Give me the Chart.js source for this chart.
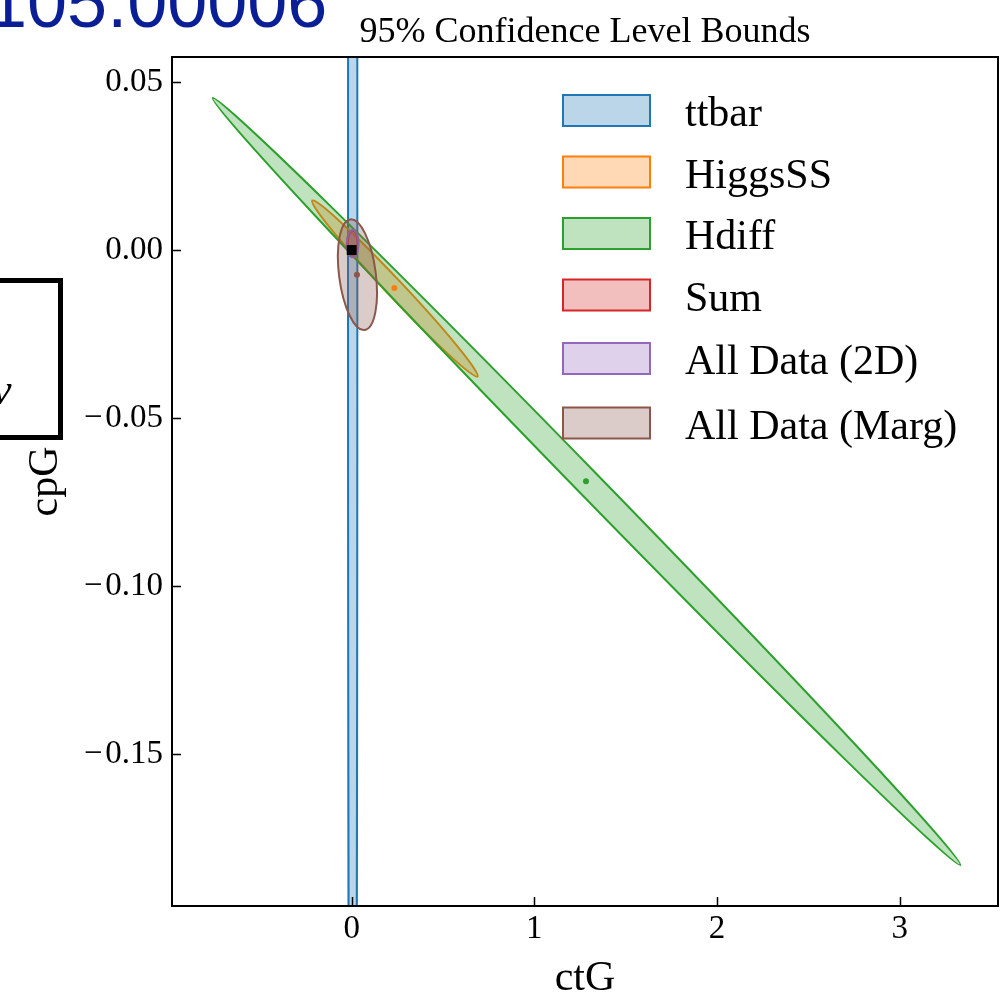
<!DOCTYPE html>
<html>
<head>
<meta charset="utf-8">
<script src="https://cdn.jsdelivr.net/npm/chart.js@4.4.1/dist/chart.umd.min.js"></script>
<style>
    html, body { margin: 0; padding: 0; background: #fff; overflow: hidden; }
    #chart { display: block; }
</style>
</head>
<body>
<canvas id="chart" width="1005" height="998"></canvas>
<script>
// ====== data ======
const labels = ["ttbar", "HiggsSS", "Hdiff", "Sum", "All Data (2D)", "All Data (Marg)"];
const edgeColors = ["#1f77b4", "#ff7f0e", "#2ca02c", "#d62728", "#9467bd", "#8c564b"];
const fillColors = ["rgba(31,119,180,0.3)", "rgba(255,127,14,0.3)", "rgba(44,160,44,0.3)",
    "rgba(214,39,40,0.3)", "rgba(148,103,189,0.3)", "rgba(140,86,75,0.3)"];

// ellipse centres (ctG, cpG)
const centerCtG = [0.0054, 0.2364, 1.2853, 0.0054, 0.0054, 0.0315];
const centerCpG = [0.0, -0.01146, -0.0689, 0.0019, 0.0019, -0.00735];
// first half-axis vector
const axisA_ctG = [0.0255, 0.4527, 2.0462, 0.028, 0.0326, 0.0391];
const axisA_cpG = [0.0, -0.02619, -0.11414, 0.0, 0.0, -0.01646];
// second half-axis vector
const axisB_ctG = [0.0, 0.0336, 0.04848, 0.0, 0.0, 0.0997];
const axisB_cpG = [0.4, 0.00174, 0.00261, 0.0038, 0.00408, 0.00071];

// best-fit dots that show in the picture
const dotCtG = [0.2337, 1.2826, 0.0288];
const dotCpG = [-0.0113, -0.0688, -0.00735];
const dotColors = ["#ff7f0e", "#2ca02c", "#8c564b"];

// SM point
const smCtG = [0];
const smCpG = [0];

const xTicks = [0, 1, 2, 3];
const yTicks = [0.05, 0.0, -0.05, -0.10, -0.15];

const serif = "'Liberation Serif', 'Times New Roman', serif";

// ====== plugins ======
const ellipsePlugin = {
    id: "ellipses",
    beforeDatasetsDraw(chart) {
        const { ctx, chartArea, scales } = chart;
        const xs = scales.x, ys = scales.y;
        ctx.save();
        ctx.beginPath();
        ctx.rect(chartArea.left, chartArea.top, chartArea.right - chartArea.left, chartArea.bottom - chartArea.top);
        ctx.clip();
        labels.forEach((lab, i) => {
            const cx = xs.getPixelForValue(centerCtG[i]);
            const cy = ys.getPixelForValue(centerCpG[i]);
            const ax = xs.getPixelForValue(centerCtG[i] + axisA_ctG[i]) - cx;
            const ay = ys.getPixelForValue(centerCpG[i] + axisA_cpG[i]) - cy;
            const bx = xs.getPixelForValue(centerCtG[i] + axisB_ctG[i]) - cx;
            const by = ys.getPixelForValue(centerCpG[i] + axisB_cpG[i]) - cy;
            ctx.save();
            ctx.beginPath();
            ctx.transform(ax, ay, bx, by, cx, cy);
            ctx.arc(0, 0, 1, 0, Math.PI * 2);
            ctx.closePath();
            ctx.restore();
            ctx.fillStyle = fillColors[i];
            ctx.fill();
            ctx.lineWidth = 2;
            ctx.strokeStyle = edgeColors[i];
            ctx.stroke();
        });
        ctx.restore();
    },
};

const decorPlugin = {
    id: "decor",
    afterDraw(chart) {
        const { ctx, chartArea, scales } = chart;
        const { left, right, top, bottom } = chartArea;
        ctx.save();

        // frame
        ctx.strokeStyle = "#000";
        ctx.lineWidth = 2;
        ctx.strokeRect(left, top, right - left, bottom - top);

        // inward ticks
        ctx.lineWidth = 1.5;
        ctx.beginPath();
        xTicks.forEach((v) => {
            const px = Math.round(scales.x.getPixelForValue(v)) + 0.5;
            ctx.moveTo(px, bottom);
            ctx.lineTo(px, bottom - 9);
        });
        yTicks.forEach((v) => {
            const py = Math.round(scales.y.getPixelForValue(v)) + 0.5;
            ctx.moveTo(left, py);
            ctx.lineTo(left + 9, py);
        });
        ctx.stroke();

        // title
        ctx.fillStyle = "#000";
        ctx.font = `36px ${serif}`;
        ctx.textAlign = "center";
        ctx.textBaseline = "alphabetic";
        ctx.fillText("95% Confidence Level Bounds", (left + right) / 2, 42);

        // legend
        const legX = 563, legW = 87, legH = 31;
        const rowY = [126, 187.5, 249, 310.5, 374, 438.5];
        ctx.font = `42px ${serif}`;
        ctx.textAlign = "left";
        labels.forEach((lab, i) => {
            const yb = rowY[i];
            ctx.fillStyle = "#fff";
            ctx.fillRect(legX, yb - legH, legW, legH);
            ctx.fillStyle = fillColors[i];
            ctx.fillRect(legX, yb - legH, legW, legH);
            ctx.lineWidth = 2;
            ctx.strokeStyle = edgeColors[i];
            ctx.strokeRect(legX, yb - legH, legW, legH);
            ctx.fillStyle = "#000";
            ctx.fillText(lab, 685, yb);
        });

        // stray overlay pieces at the left edge
        ctx.fillStyle = "#0a1f96";
        ctx.font = "72px 'Liberation Sans', Arial, sans-serif";
        ctx.textAlign = "left";
        ctx.fillText("105.00006", -13, 27);

        ctx.strokeStyle = "#000";
        ctx.lineWidth = 5;
        ctx.strokeRect(-10, 280.5, 70.5, 157);
        ctx.fillStyle = "#000";
        ctx.font = `italic 44px ${serif}`;
        ctx.fillText("\u03bd", -8, 404);

        ctx.restore();
    },
};

// ====== chart ======
const ctx = document.getElementById("chart").getContext("2d");

new Chart(ctx, {
    type: "scatter",
    data: {
        datasets: [
            {
                label: "centres",
                data: dotCtG.map((x, i) => ({ x, y: dotCpG[i] })),
                pointRadius: 3,
                pointBackgroundColor: dotColors,
                pointBorderWidth: 0,
            },
            {
                label: "SM",
                data: smCtG.map((x, i) => ({ x, y: smCpG[i] })),
                pointStyle: "rect",
                pointRadius: 7,
                pointBackgroundColor: "#000",
                pointBorderWidth: 0,
            },
        ],
    },
    options: {
        responsive: false,
        animation: false,
        devicePixelRatio: 1,
        layout: { padding: { top: 57, right: -5, left: 0, bottom: 0 } },
        plugins: {
            legend: { display: false },
            tooltip: { enabled: false },
            title: { display: false },
        },
        scales: {
            x: {
                type: "linear",
                min: -0.9837,
                max: 3.538,
                grid: { display: false, drawTicks: false },
                border: { display: false },
                afterFit(scale) {
                    scale.height = 92;
                    scale.paddingLeft = 0;
                    scale.paddingRight = 0;
                },
                afterBuildTicks(scale) { scale.ticks = xTicks.map((v) => ({ value: v })); },
                ticks: {
                    color: "#000",
                    padding: 4,
                    font: { family: serif, size: 33 },
                    callback: (v) => String(v),
                },
                title: {
                    display: true,
                    text: "ctG",
                    color: "#000",
                    font: { family: serif, size: 42, lineHeight: 1 },
                    padding: { top: 0, bottom: -2 },
                },
            },
            y: {
                type: "linear",
                min: -0.19524,
                max: 0.05744,
                grid: { display: false, drawTicks: false },
                border: { display: false },
                afterFit(scale) {
                    scale.width = 172;
                    scale.paddingTop = 0;
                    scale.paddingBottom = 0;
                },
                afterBuildTicks(scale) { scale.ticks = yTicks.map((v) => ({ value: v })); },
                ticks: {
                    color: "#000",
                    padding: 9,
                    font: { family: serif, size: 33 },
                    callback: (v) => (v < 0 ? "\u2212\u200a" : "") + Math.abs(v).toFixed(2),
                },
                title: {
                    display: true,
                    text: "cpG",
                    color: "#000",
                    font: { family: serif, size: 42, lineHeight: 1 },
                    padding: { top: 25, bottom: 0 },
                },
            },
        },
    },
    plugins: [ellipsePlugin, decorPlugin],
});
</script>
</body>
</html>
